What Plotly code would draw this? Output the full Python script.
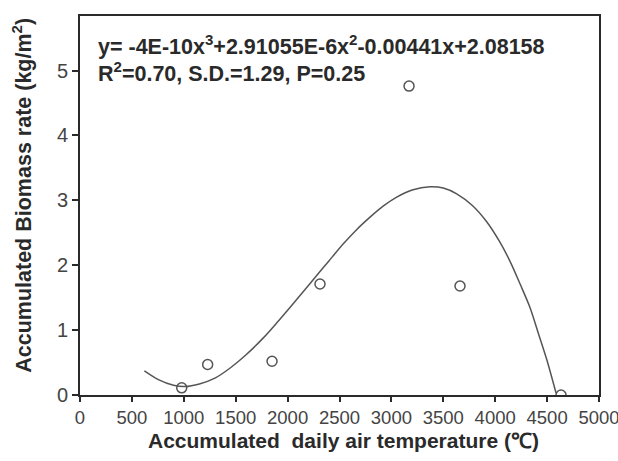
import plotly.graph_objects as go

# Observed data points
temp_x = [980, 1230, 1850, 2312, 3170, 3661, 4634]
biomass_y = [0.11, 0.47, 0.52, 1.71, 4.76, 1.68, 0.0]

# Fitted cubic curve
curve_x = [620, 750, 900, 1012, 1150, 1300, 1450, 1600, 1766, 1900, 2023, 2150, 2280, 2400,
           2537, 2660, 2794, 2920, 3051, 3200, 3372, 3500, 3629, 3780, 3918, 4040, 4143,
           4240, 4335, 4420, 4496, 4586]
curve_y = [0.37, 0.24, 0.15, 0.13, 0.17, 0.26, 0.42, 0.62, 0.88, 1.12, 1.35, 1.59, 1.84, 2.07,
           2.33, 2.54, 2.74, 2.91, 3.05, 3.16, 3.21, 3.19, 3.10, 2.92, 2.67, 2.37, 2.06,
           1.71, 1.35, 0.93, 0.55, 0.03]

x_ticks = [0, 500, 1000, 1500, 2000, 2500, 3000, 3500, 4000, 4500, 5000]
y_ticks = [0, 1, 2, 3, 4, 5]

eq_line1 = "y= -4E-10x<sup>3</sup>+2.91055E-6x<sup>2</sup>-0.00441x+2.08158"
eq_line2 = "R<sup>2</sup>=0.70, S.D.=1.29, P=0.25"
x_title = "Accumulated  daily air temperature (℃)"
y_title = "Accumulated Biomass rate (kg/m<sup>2</sup>)"

axis_col = "#2a2a2a"
mark_col = "#555555"
FONT = "Liberation Sans, Arial, sans-serif"

fig = go.Figure()
fig.add_trace(go.Scatter(x=curve_x, y=curve_y, mode="lines",
                         line=dict(color=mark_col, width=1.5, shape="spline", smoothing=0.8),
                         showlegend=False, hoverinfo="skip"))
fig.add_trace(go.Scatter(x=temp_x, y=biomass_y, mode="markers",
                         marker=dict(symbol="circle-open", size=10, color=mark_col,
                                     line=dict(width=1.5, color=mark_col)),
                         showlegend=False, cliponaxis=True))

fig.update_layout(
    width=618, height=461,
    margin=dict(l=80, r=19, t=16, b=66),
    paper_bgcolor="white", plot_bgcolor="white",
    font=dict(family=FONT, color=axis_col),
    xaxis=dict(range=[0, 5000], tickvals=x_ticks, ticks="outside", ticklen=5, tickwidth=1.5,
               tickcolor=axis_col, showline=True, linecolor=axis_col, linewidth=2, mirror=True,
               showgrid=False, zeroline=False, automargin=False, ticklabeloverflow="allow",
               tickfont=dict(size=18.5, color="#444444")),
    yaxis=dict(range=[0, 5.84], tickvals=y_ticks, ticks="outside", ticklen=6, tickwidth=1.5,
               tickcolor=axis_col, showline=True, linecolor=axis_col, linewidth=2, mirror=True,
               showgrid=False, zeroline=False, automargin=False,
               tickfont=dict(size=20, color="#444444")),
)

# Equation annotations
fig.add_annotation(x=0.031, y=0.923, xref="paper", yref="paper", xanchor="left", yanchor="middle",
                   text="<b>" + eq_line1 + "</b>", showarrow=False,
                   font=dict(size=21.5, color=axis_col))
fig.add_annotation(x=0.031, y=0.853, xref="paper", yref="paper", xanchor="left", yanchor="middle",
                   text="<b>" + eq_line2 + "</b>", showarrow=False,
                   font=dict(size=21.5, color=axis_col))

# Axis titles
fig.add_annotation(x=0.507, y=-0.121, xref="paper", yref="paper", xanchor="center", yanchor="middle",
                   text="<b>" + x_title + "</b>", showarrow=False,
                   font=dict(size=21, color=axis_col))
fig.add_annotation(x=-0.112, y=0.528, xref="paper", yref="paper", xanchor="center", yanchor="middle",
                   text="<b>" + y_title + "</b>", showarrow=False, textangle=-90,
                   font=dict(size=21.5, color=axis_col))

fig.write_html("out.html", config={"displayModeBar": False},
               post_script="document.body.style.margin='0';document.body.style.overflow='hidden';")
